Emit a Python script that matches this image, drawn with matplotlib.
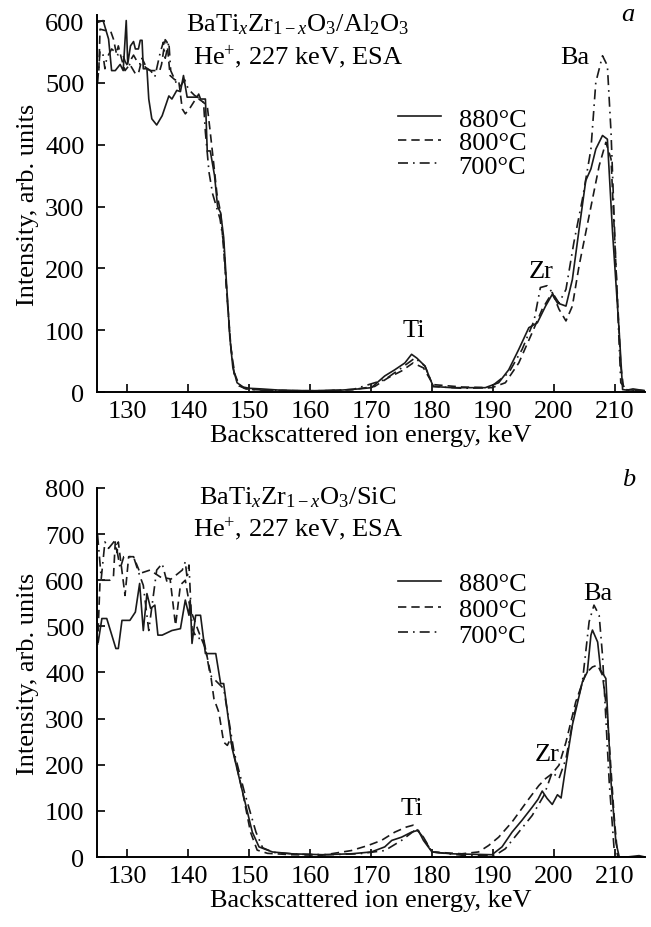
import matplotlib
matplotlib.use("Agg")
import matplotlib.pyplot as plt

plt.rcParams['font.family'] = ['Liberation Serif', 'DejaVu Serif']
plt.rcParams['mathtext.fontset'] = 'custom'
plt.rcParams['mathtext.rm'] = 'Liberation Serif'
plt.rcParams['mathtext.it'] = 'Liberation Serif:italic'
plt.rcParams['font.size'] = 19

# panel a: BaTiZrO3 / Al2O3
Ea_880 = [125.1, 126.0, 126.9, 127.4, 128.0, 128.8, 129.3, 129.8, 130.05, 130.5, 131.0, 131.3, 131.8,
          132.1, 132.4, 132.6, 133.2, 133.5, 134.0, 134.8, 135.7, 136.8, 137.3, 138.1, 138.7, 139.2,
          139.8, 140.5, 141.4, 141.7, 142.0, 142.2, 142.8, 143.1, 143.6, 144.3, 144.8, 145.3, 145.8,
          146.3, 146.8, 147.3, 148.0, 149.0, 150.0, 152.0, 155, 160, 165, 168, 170.05, 172.25, 173.9,
          175.55, 176.65, 177.5, 178.85, 180.2, 183.25, 188.75, 190.95, 192.6, 194.25, 195.9, 197.3,
          198.65, 199.75, 200.6, 202.0, 203.05, 204.15, 205.25, 206.1, 206.9, 208.0, 208.8, 209.65,
          210.75, 211.3, 212, 213, 215]
Ia_880 = [598, 601, 571, 520, 520, 530, 520, 601, 531, 560, 567, 555, 555, 569, 569, 523, 523, 474,
          442, 432, 447, 479, 474, 488, 486, 512, 477, 477, 477, 482, 474, 474, 474, 390, 390, 350,
          300, 290, 250, 170, 90, 40, 15, 8, 6, 5, 3, 2, 3, 5, 7, 26, 36, 47, 61, 55, 42, 9, 7, 7,
          15, 36, 69, 104, 112, 139, 158, 144, 139, 182, 263, 342, 361, 393, 415, 409, 258, 96, 4,
          3, 5, 2]

Ea_800 = [125.3, 125.5, 126.3, 127.2, 127.7, 128.2, 128.5, 129.0, 129.6, 130.4, 131.3, 131.8, 132.4,
          133.2, 133.7, 134.5, 135.3, 135.6, 136.2, 136.5, 137.0, 137.8, 138.4, 139.0, 139.5, 140.3,
          141.2, 141.7, 142.3, 143.1, 143.6, 144.2, 144.7, 145.3, 145.8, 146.4, 147.0, 147.6, 148.3,
          149.2, 150.5, 153, 158, 163, 167, 170.6, 172.8, 175.0, 176.9, 178.6, 180.2, 185, 189.85,
          192.05, 194.25, 196.45, 198.1, 199.75, 200.85, 202.0, 203.05, 204.15, 205.25, 206.35,
          207.45, 208.55, 209.4, 210.2, 211.0, 211.5, 213, 215]
Ia_800 = [520, 587, 585, 585, 571, 547, 560, 540, 520, 530, 515, 515, 540, 523, 520, 520, 520, 530,
          570, 566, 512, 505, 505, 458, 450, 460, 474, 474, 470, 463, 420, 366, 320, 290, 230, 150,
          70, 30, 12, 6, 4, 3, 2, 2, 4, 9, 23, 34, 47, 39, 12, 8, 7, 15, 47, 96, 134, 161, 134, 115,
          139, 204, 258, 312, 366, 404, 377, 204, 42, 4, 3, 2]

Ea_700 = [125.1, 125.5, 126.0, 126.3, 126.6, 127.4, 128.0, 128.5, 129.3, 129.6, 130.2, 130.7, 131.0,
          131.8, 132.4, 133.0, 133.8, 134.5, 135.4, 135.9, 136.2, 136.8, 137.1, 138.1, 138.7, 139.4,
          140.0, 141.0, 142.0, 142.5, 142.8, 143.4, 144.0, 144.6, 145.2, 145.8, 146.3, 146.9, 147.5,
          148.3, 149.5, 152, 157, 162, 167, 172.25, 175.0, 177.2, 178.85, 180.2, 185, 189.5, 192.6,
          194.8, 196.75, 197.8, 198.9, 199.75, 200.85, 202.0, 203.3, 204.7, 206.1, 206.9, 208.0,
          208.8, 209.4, 210.2, 211.0, 212, 215]
Ia_700 = [500, 552, 545, 523, 540, 555, 550, 545, 544, 535, 525, 540, 545, 531, 531, 525, 520, 510,
          550, 566, 540, 566, 520, 498, 495, 505, 490, 480, 474, 468, 420, 355, 320, 300, 280, 240,
          160, 80, 30, 10, 5, 3, 2, 2, 4, 20, 39, 55, 42, 9, 6, 7, 31, 69, 115, 169, 172, 161, 144,
          166, 242, 312, 393, 501, 544, 528, 420, 204, 15, 3, 2]

# panel b: BaTiZrO3 / SiC
Eb_880 = [125.2, 125.8, 126.6, 128.1, 128.5, 129.1, 130.4, 131.3, 132.0, 132.6, 133.2, 133.8, 134.5,
          135.0, 135.7, 137.3, 138.7, 139.5, 140.1, 140.3, 140.6, 141.2, 142.0, 142.8, 144.5, 145.3,
          145.8, 147.2, 148.9, 150.5, 151.6, 153.8, 157, 162, 166.75, 170.05, 172.25, 173.4, 175.0,
          176.65, 177.75, 178.6, 180.0, 183.2, 189.85, 191.5, 193.15, 194.8, 196.45, 197.4, 198.1,
          198.9, 199.75, 200.6, 201.2, 202.0, 203.05, 204.7, 205.5, 206.1, 206.35, 207.2, 207.7,
          208.55, 209.4, 210.2, 210.75, 212, 214, 215]
Ib_880 = [466, 517, 517, 452, 452, 513, 513, 531, 593, 491, 571, 539, 546, 481, 481, 491, 495, 557,
          524, 557, 463, 524, 524, 441, 441, 376, 376, 235, 141, 54, 22, 11, 7, 5, 7, 11, 22, 36, 43,
          54, 58, 36, 11, 7, 5, 22, 54, 80, 108, 125, 143, 127, 114, 135, 128, 199, 286, 380, 401,
          481, 492, 466, 405, 387, 163, 32, 0, 0, 3, 0]

Eb_800 = [125.1, 125.5, 127.1, 127.7, 128.0, 128.3, 128.5, 129.6, 130.2, 131.0, 132.1, 133.7, 135.4,
          137.0, 137.9, 138.7, 139.5, 140.3, 141.7, 142.8, 143.6, 144.2, 145.0, 145.8, 146.4, 146.9,
          148.9, 150.2, 151.3, 153, 157, 162, 166.75, 169.5, 171.7, 173.9, 175.8, 176.9, 178.3,
          180.0, 184.9, 187.65, 189.3, 190.95, 193.15, 195.9, 197.55, 198.65, 199.75, 200.85, 202.0,
          203.6, 205.25, 206.35, 207.2, 208.0, 208.8, 209.9, 210.5, 212, 215]
Ib_800 = [460, 600, 600, 607, 683, 660, 683, 567, 651, 651, 615, 622, 607, 603, 502, 590, 600, 538,
          488, 452, 401, 343, 314, 249, 242, 256, 141, 54, 15, 8, 5, 4, 14, 25, 36, 54, 65, 69, 47,
          11, 7, 11, 25, 43, 76, 126, 155, 170, 181, 199, 249, 336, 398, 412, 416, 394, 307, 90, 0,
          0, 0]

Eb_700 = [125.1, 125.7, 126.3, 126.9, 128.0, 128.8, 129.4, 131.0, 131.8, 132.6, 133.5, 134.8, 135.7,
          136.5, 137.3, 139.0, 139.5, 139.8, 140.1, 140.6, 141.4, 142.5, 143.6, 145.8, 147.5, 149.2,
          151.1, 152.2, 154, 158, 163, 168, 172.25, 175.0, 177.5, 178.6, 180.0, 184.9, 190.4, 192.05,
          194.25, 196.45, 198.4, 199.75, 200.85, 202.0, 203.3, 204.7, 205.8, 206.6, 207.45, 208.0,
          209.1, 209.9, 210.3, 212, 215]
Ib_700 = [698, 604, 683, 669, 687, 625, 651, 651, 618, 589, 491, 622, 636, 596, 604, 622, 640, 604,
          633, 495, 474, 474, 394, 365, 228, 141, 54, 20, 10, 6, 5, 7, 14, 36, 61, 43, 11, 4, 4, 18,
          54, 90, 134, 184, 170, 213, 307, 380, 510, 546, 524, 437, 163, 18, 0, 0, 0]

temps = ['880°C', '800°C', '700°C']
styles = ['-', (0, (5, 3)), (0, (6, 3, 1, 3))]

fig = plt.figure(figsize=(6.51, 9.28), dpi=100)
ax_a = fig.add_axes([0.149, 0.5765, 0.842, 0.4063])
ax_b = fig.add_axes([0.149, 0.0754, 0.842, 0.3977])

panels = [
    (ax_a, [(Ea_880, Ia_880), (Ea_800, Ia_800), (Ea_700, Ia_700)], 610, range(0, 601, 100),
     'BaTi$_{\\mathit{x}}$Zr$_{1-\\mathit{x}}$O$_3$/Al$_2$O$_3$', 'a',
     [(203.4, 542, 'Ba'), (197.9, 195, 'Zr'), (177.1, 100, 'Ti')], 0.662, 0.0),
    (ax_b, [(Eb_880, Ib_880), (Eb_800, Ib_800), (Eb_700, Ib_700)], 800, range(0, 801, 100),
     'BaTi$_{\\mathit{x}}$Zr$_{1-\\mathit{x}}$O$_3$/SiC', 'b',
     [(207.2, 573, 'Ba'), (198.9, 224, 'Zr'), (176.65, 107, 'Ti')], 0.672, 0.09),
]

for ax, series, ymax, yt, title, letter, peaks, leg_y, lsp in panels:
    for (e, i), lab, ls in zip(series, temps, styles):
        ax.plot(e, i, color='#1a1a1a', linestyle=ls, linewidth=1.2, label=lab)
    ax.set_xlim(125, 215)
    ax.set_ylim(0, ymax)
    ax.set_xticks(range(130, 211, 10))
    ax.set_yticks(list(yt))
    ax.spines['top'].set_visible(False)
    ax.spines['right'].set_visible(False)
    ax.spines['left'].set_linewidth(1.4)
    ax.spines['bottom'].set_linewidth(1.4)
    ax.tick_params(direction='in', length=6, width=1.2, labelsize=19)
    ax.tick_params(axis='x', pad=6)
    ax.tick_params(axis='y', pad=9)
    ax.set_xlabel('Backscattered ion energy, keV', fontsize=19, labelpad=1)
    ax.set_ylabel('Intensity, arb. units', fontsize=19, labelpad=4)
    ax.text(0.366, 0.977, title, transform=ax.transAxes, ha='center', va='center')
    ax.text(0.366, 0.891, 'He$^{+}$, 227 keV, ESA', transform=ax.transAxes, ha='center', va='center')
    ax.text(0.969, 1.003 if letter == 'a' else 1.024, letter, transform=ax.transAxes,
            ha='center', va='center', style='italic')
    for e, i, s in peaks:
        ax.text(e, i, s, ha='center', va='center')
    ax.legend(loc='center left', bbox_to_anchor=(0.549, leg_y), frameon=False, fontsize=19,
              borderpad=0, borderaxespad=0, handlelength=1.65, handletextpad=0.65,
              labelspacing=lsp)

fig.savefig('out.png', dpi=100)
